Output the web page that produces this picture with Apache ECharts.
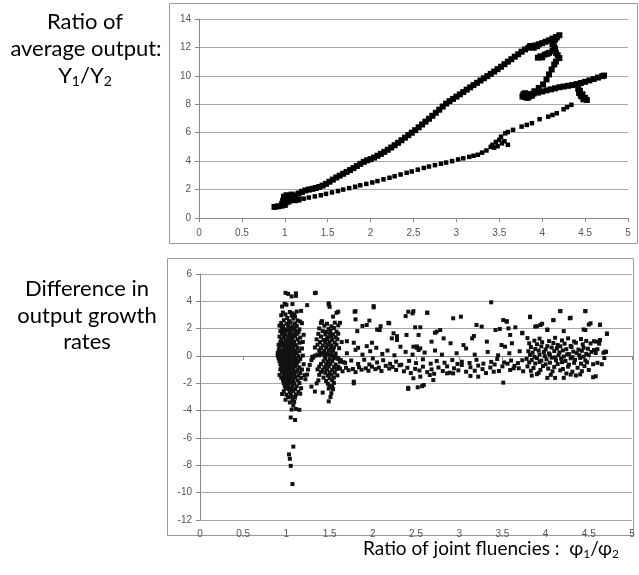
<!DOCTYPE html>
<html>
<head>
<meta charset="utf-8">
<title>Ratio of joint fluencies</title>
<script src="https://cdn.jsdelivr.net/npm/echarts@6/dist/echarts.min.js"></script>
<style>
  html, body { margin: 0; padding: 0; background: #fff; }
  #chart { width: 639px; height: 575px; }
</style>
</head>
<body>
<div id="chart"></div>
<script>
// ---- top panel: Y1/Y2 against phi1/phi2 ----
const startBlob = [
  [0.88,0.78],[0.92,0.82],[0.96,0.86],[1.0,0.92],[0.97,1.0],[1.01,1.08],[1.04,1.15],
  [0.98,1.2],[1.0,1.3],[1.03,1.4],[0.99,1.5],[1.02,1.6],[1.06,1.55],[1.1,1.5],
  [1.07,1.3],[1.12,1.25],[1.05,1.22],[1.16,1.3],[1.08,1.65]
];
const riseBranch = [
  [1.12,1.58],[1.16,1.72],[1.2,1.84],[1.24,1.94],[1.28,2.0],[1.32,2.05],[1.36,2.11],
  [1.4,2.18],[1.44,2.28],[1.48,2.4],[1.52,2.55],[1.56,2.7],[1.6,2.85],[1.64,2.98],
  [1.68,3.11],[1.72,3.24],[1.76,3.37],[1.8,3.51],[1.84,3.66],[1.88,3.81],[1.92,3.95],
  [1.96,4.06],[2.0,4.14],[2.04,4.25],[2.08,4.38],[2.12,4.51],[2.16,4.65],[2.2,4.8],
  [2.24,4.96],[2.28,5.12],[2.32,5.29],[2.36,5.47],[2.4,5.65],[2.44,5.83],[2.48,6.0],
  [2.52,6.18],[2.56,6.38],[2.6,6.58],[2.64,6.78],[2.68,6.98],[2.72,7.19],[2.76,7.4],
  [2.8,7.62],[2.84,7.84],[2.88,8.05],[2.92,8.22],[2.96,8.38],[3.0,8.54],[3.04,8.7],
  [3.08,8.86],[3.12,9.03],[3.16,9.19],[3.2,9.35],[3.24,9.51],[3.28,9.67],[3.32,9.83],
  [3.36,9.98],[3.4,10.14],[3.44,10.3],[3.48,10.47],[3.52,10.64],[3.56,10.82],[3.6,11.0],
  [3.64,11.17],[3.68,11.35],[3.72,11.52],[3.76,11.7],[3.8,11.86],[3.84,11.98],[3.88,12.06],
  [3.92,12.14],[3.96,12.22],[4.0,12.3],[4.04,12.4],[4.08,12.5],[4.12,12.62],[4.16,12.74],
  [4.2,12.86],[3.86,12.1],[3.9,11.98],[3.94,12.08]
];
const foldBranch = [
  [4.17,12.7],[4.15,12.55],[4.13,12.4],[4.12,12.22],[4.14,12.05],[4.15,11.9],[4.12,11.75],
  [4.08,11.62],[4.03,11.5],[3.98,11.38],[3.95,11.28],[4.0,11.3],[4.06,11.55],[4.16,11.62],
  [4.18,11.45],[4.2,11.25],[4.16,11.0],
  [4.14,10.8],[4.11,10.45],[4.08,10.1],[4.05,9.75],[4.01,9.4],[3.96,9.15],[3.91,8.92],[3.86,8.72],
  [3.77,8.55],[3.8,8.5],[3.78,8.7],[3.82,8.62],[3.85,8.55],[3.83,8.45],[3.88,8.6],[3.8,8.78],
  [3.9,8.75],[3.95,8.82],[4.0,8.9],[4.05,8.98],[4.1,9.05],[4.15,9.12],[4.2,9.2],[4.25,9.25],
  [4.3,9.3],[4.35,9.35],[4.4,9.42],[4.45,9.5],[4.5,9.58],[4.55,9.68],[4.6,9.78],[4.65,9.88],
  [4.7,9.98],[4.72,10.02],
  [4.42,9.1],[4.44,8.95],[4.43,8.8],[4.47,8.7],[4.46,8.55],[4.5,8.45],[4.48,8.35],[4.52,8.3],[4.45,8.62]
];
const returnBranch = [
  [4.34,7.96],[4.29,7.8],[4.25,7.65],[4.17,7.37],[4.12,7.25],[4.07,7.13],[3.97,6.95],[3.88,6.67],
  [3.82,6.55],[3.76,6.43],[3.66,6.2],[3.6,6.05],[3.57,5.96],[3.52,5.72],[3.5,5.5],[3.46,5.35],
  [3.42,5.15],[3.48,5.05],[3.53,5.25],[3.56,5.4],[3.44,4.95],[3.6,5.15],[3.4,5.0],
  [3.35,4.75],[3.3,4.6],[3.25,4.45],[3.2,4.38],[3.15,4.3],[3.08,4.2],[3.02,4.12],[2.95,4.0],
  [2.88,3.9],[2.82,3.82],[2.75,3.72],[2.68,3.62],[2.62,3.52],[2.55,3.4],[2.48,3.27],[2.42,3.18],
  [2.35,3.06],[2.28,2.94],[2.22,2.83],[2.15,2.72],[2.08,2.6],[2.02,2.5],[1.95,2.4],[1.88,2.3],
  [1.82,2.2],[1.75,2.1],[1.68,2.0],[1.62,1.9],[1.55,1.8],[1.48,1.7],[1.42,1.6],[1.35,1.52],
  [1.28,1.44],[1.22,1.36],[1.16,1.28],[1.1,1.22],[1.04,1.15]
];

// ---- bottom panel: difference in output growth rates ----
const clusterNearOne = [
  [0.99,4.62],[1.02,4.55],[1.11,4.58],[1.06,4.36],[1.11,4.4],
  [0.98,3.82],[1.0,3.75],[1.07,3.8],[1.24,3.72],[0.95,3.62],
  [0.96,3.18],[1.04,3.22],[1.07,3.12],[1.12,3.25],[1.17,3.3],
  [0.94,2.98],[0.99,3.04],[1.06,2.95],[1.09,3.02],[1.1,2.88],
  [1.01,2.78],[1.08,2.74],
  [0.97,2.62],[1.03,2.55],[1.13,2.6],[1.16,2.52],
  [0.94,2.42],[1.0,2.36],[1.05,2.45],[1.1,2.38],[1.18,2.4],
  [0.92,2.22],[0.96,2.18],[1.02,2.25],[1.07,2.16],[1.12,2.2],
  [0.95,2.02],[0.99,1.96],[1.03,2.05],[1.06,1.98],[1.09,2.04],[1.15,1.95],
  [0.93,1.82],[0.97,1.76],[1.01,1.84],[1.05,1.78],[1.1,1.85],[1.14,1.74],
  [0.95,1.62],[0.99,1.56],[1.04,1.64],[1.08,1.58],[1.12,1.62],[1.2,1.55],
  [0.92,1.42],[0.97,1.36],[1.02,1.44],[1.06,1.38],[1.1,1.45],[1.16,1.35],
  [0.94,1.22],[0.99,1.16],[1.03,1.25],[1.07,1.18],[1.13,1.22],
  [0.93,1.02],[0.96,0.96],[1.01,1.04],[1.05,0.98],[1.09,1.05],[1.15,0.97],[1.19,1.02],
  [0.91,0.82],[0.95,0.78],[0.99,0.84],[1.03,0.77],[1.07,0.83],[1.11,0.8],
  [0.92,0.62],[0.97,0.58],[1.0,0.64],[1.04,0.57],[1.08,0.63],[1.13,0.6],[1.18,0.55],
  [0.91,0.42],[0.94,0.38],[0.98,0.44],[1.02,0.37],[1.06,0.43],[1.1,0.4],[1.15,0.36],
  [0.9,0.22],[0.93,0.18],[0.96,0.24],[1.0,0.17],[1.04,0.23],[1.08,0.19],[1.12,0.22],
  [0.9,0.02],[0.92,-0.03],[0.95,0.04],[0.98,-0.02],[1.01,0.03],[1.05,-0.04],[1.09,0.02],[1.14,-0.02],[1.19,0.03],
  [0.91,-0.18],[0.94,-0.23],[0.97,-0.16],[1.0,-0.22],[1.03,-0.17],[1.07,-0.24],[1.11,-0.18],[1.16,-0.22],
  [0.92,-0.38],[0.95,-0.43],[0.99,-0.37],[1.02,-0.42],[1.06,-0.36],[1.1,-0.44],[1.14,-0.39],
  [0.93,-0.58],[0.97,-0.63],[1.01,-0.57],[1.04,-0.62],[1.08,-0.56],[1.12,-0.64],[1.2,-0.6],
  [0.94,-0.78],[0.98,-0.83],[1.02,-0.77],[1.06,-0.82],[1.1,-0.76],[1.15,-0.84],
  [0.93,-0.98],[0.96,-1.03],[1.0,-0.97],[1.04,-1.02],[1.08,-0.96],[1.13,-1.04],[1.18,-0.99],
  [0.95,-1.18],[0.99,-1.23],[1.03,-1.17],[1.07,-1.22],[1.11,-1.16],[1.16,-1.24],
  [0.92,-1.38],[0.97,-1.43],[1.01,-1.37],[1.05,-1.42],[1.09,-1.36],[1.14,-1.44],[1.21,-1.4],
  [0.94,-1.58],[0.98,-1.63],[1.02,-1.57],[1.06,-1.62],[1.1,-1.56],[1.17,-1.6],
  [0.96,-1.78],[1.0,-1.83],[1.04,-1.77],[1.08,-1.82],[1.13,-1.78],
  [0.97,-1.98],[1.01,-2.03],[1.05,-1.97],[1.09,-2.02],[1.15,-1.98],
  [0.98,-2.18],[1.02,-2.23],[1.07,-2.17],[1.12,-2.22],
  [0.99,-2.38],[1.03,-2.43],[1.06,-2.37],[1.1,-2.42],[1.17,-2.36],
  [0.97,-2.58],[1.04,-2.63],[1.08,-2.57],[1.14,-2.62],
  [0.95,-2.78],[1.0,-2.83],[1.05,-2.77],[1.11,-2.82],[1.16,-2.76],
  [1.02,-3.02],[1.06,-2.97],[1.1,-3.04],
  [0.99,-3.2],[1.07,-3.24],[1.04,-3.4],[1.09,-3.36],[1.08,-3.62],
  [1.06,-3.92],[1.11,-3.88],[1.15,-3.94],[1.05,-4.5],[1.1,-4.68],
  [1.08,-6.63],[1.03,-7.2],[1.04,-7.52],[1.05,-8.04],[1.07,-9.37]
];
const hookBand = [
  [1.22,-1.7],[1.24,-1.36],[1.25,-0.99],[1.27,-0.65],[1.29,-0.3],[1.31,-0.12],[1.33,0.02],
  [1.36,0.1],[1.39,0.16],[1.42,0.18],[1.45,0.14],[1.48,0.1],[1.51,0.05],[1.54,0.0],
  [1.57,-0.06],[1.6,-0.15],[1.63,-0.3],[1.66,-0.45],[1.3,-0.05],[1.38,0.05],[1.44,0.02]
];
const clusterNearOneHalf = [
  [1.33,4.6],[1.34,4.63],[1.49,3.85],[1.5,3.6],[1.6,3.24],[1.41,2.5],[1.54,2.88],
  [1.4,2.42],[1.47,2.36],[1.56,2.44],[1.44,2.22],[1.52,2.17],[1.6,2.24],
  [1.38,2.02],[1.49,1.97],[1.55,2.05],[1.42,1.82],[1.46,1.77],[1.51,1.84],[1.58,1.78],
  [1.37,1.62],[1.45,1.57],[1.5,1.64],[1.54,1.58],[1.6,1.63],
  [1.4,1.42],[1.48,1.37],[1.52,1.44],[1.57,1.38],
  [1.35,1.22],[1.43,1.17],[1.47,1.24],[1.53,1.18],[1.59,1.23],
  [1.39,1.02],[1.45,0.97],[1.5,1.04],[1.56,0.98],[1.64,1.02],
  [1.36,0.82],[1.42,0.77],[1.48,0.84],[1.52,0.78],[1.58,0.83],
  [1.33,0.62],[1.4,0.57],[1.46,0.64],[1.51,0.58],[1.55,0.63],[1.61,0.57],
  [1.38,0.42],[1.44,0.37],[1.49,0.44],[1.54,0.38],
  [1.42,0.22],[1.47,0.17],[1.52,0.24],[1.57,0.18],
  [1.45,-0.18],[1.5,-0.23],[1.55,-0.17],[1.6,-0.22],
  [1.43,-0.38],[1.48,-0.43],[1.53,-0.37],[1.62,-0.42],
  [1.4,-0.58],[1.46,-0.63],[1.51,-0.57],[1.57,-0.62],
  [1.38,-0.78],[1.44,-0.83],[1.49,-0.77],[1.55,-0.82],[1.6,-0.78],
  [1.36,-0.98],[1.42,-1.03],[1.47,-0.97],[1.53,-1.02],[1.58,-0.96],
  [1.4,-1.18],[1.45,-1.23],[1.5,-1.17],[1.56,-1.22],
  [1.38,-1.38],[1.48,-1.43],[1.52,-1.37],[1.59,-1.42],
  [1.43,-1.58],[1.5,-1.63],[1.55,-1.57],
  [1.37,-1.78],[1.46,-1.83],[1.53,-1.77],
  [1.35,-2.0],[1.48,-2.03],[1.55,-1.97],
  [1.29,-2.24],[1.5,-2.18],[1.53,-2.23],[1.49,-2.38],[1.54,-2.43],
  [1.33,-2.6],[1.42,-2.68],[1.52,-2.72],[1.51,-3.0],[1.49,-3.32]
];
const midBand = [
  [1.62,-0.92],[1.65,-1.12],[1.69,-0.86],[1.72,-1.04],[1.77,-0.95],[1.8,-1.18],[1.84,-0.83],
  [1.87,-1.0],[1.92,-0.9],[1.95,-1.08],[1.99,-0.78],[2.03,-0.96],[2.07,-0.85],[2.1,-1.1],
  [2.15,-0.72],[2.19,-0.92],[2.23,-0.8],[2.27,-1.02],[2.31,-0.68],[2.36,-1.12],[2.4,-0.86],
  [2.44,-1.25],[2.49,-0.94],[2.54,-1.06],[2.58,-0.78],[2.63,-1.18],[2.68,-0.98],[2.71,-1.3],
  [2.76,-0.84],[2.81,-1.1],[2.86,-0.76],[2.89,-1.22],[2.94,-0.9],[2.99,-1.05],[3.03,-0.66],
  [3.08,-1.15],[3.13,-0.82],[3.18,-1.08],[3.22,-0.7],[3.27,-0.96],[3.31,-1.25],[3.36,-0.84],
  [3.41,-0.62],[3.46,-1.1],[3.5,-0.76],[3.56,-0.56],[3.59,-1.02],[3.64,-0.72],[3.69,-0.9],[3.74,-1.12],
  [1.68,-0.5],[1.75,-0.33],[1.83,-0.58],[1.9,-0.27],[1.96,-0.62],[2.0,-0.18],[2.05,-0.47],
  [2.12,-0.31],[2.2,-0.57],[2.27,-0.41],[2.33,-0.64],[2.42,-0.36],[2.5,-0.52],[2.58,-0.24],
  [2.67,-0.56],[2.74,-0.37],[2.83,-0.49],[2.92,-0.29],[2.98,-0.58],[3.03,-0.42],[3.12,-0.51],
  [3.2,-0.28],[3.28,-0.56],[3.37,-0.43],[3.44,-0.22],[3.52,-0.47],[3.6,-0.33],[3.68,-0.52],[3.73,-0.31],
  [1.7,0.2],[1.8,0.45],[1.88,0.1],[1.97,0.35],[2.04,0.6],[2.11,0.15],[2.17,0.4],[2.25,0.05],
  [2.38,0.3],[2.46,0.1],[2.6,0.25],[2.72,0.4],[2.8,0.1],[2.97,0.2],[3.08,0.55],[3.18,0.1],
  [3.33,0.3],[3.45,0.05],[3.58,0.2],[3.7,0.35]
];
const midScatter = [
  [1.79,3.24],[2.01,3.56],[1.8,2.68],[1.88,2.2],[1.93,2.27],[1.96,2.59],[2.07,1.9],[2.08,1.9],
  [2.19,2.39],[2.24,1.66],[2.28,1.17],[2.22,1.29],[2.41,3.24],[2.46,3.12],[2.63,3.17],[2.49,2.1],
  [2.55,2.1],[2.39,1.54],[2.53,1.54],[2.32,0.68],[2.47,0.68],[2.51,0.7],[2.53,0.44],[2.55,0.56],
  [2.68,1.05],[2.74,1.78],[2.78,1.9],[2.82,1.29],[2.93,2.76],[3.02,2.88],[2.9,0.93],[3.05,0.8],
  [3.15,1.29],[3.17,1.46],[3.2,2.27],[3.26,2.15],[3.37,3.93],[3.32,1.05],[3.42,1.9],[3.47,1.98],
  [3.51,2.63],[3.55,2.51],[3.57,2.02],[3.59,1.54],[3.61,0.93],[3.49,0.8],[3.53,0.68],[3.65,2.1],
  [3.73,1.66],[3.82,2.88],[3.88,2.15],[3.94,2.27],[4.02,1.9],[4.09,2.63],[4.17,3.29],[4.28,2.76],
  [4.46,3.29],[4.52,2.39],[4.46,1.9],[4.63,2.27],[4.71,1.61],[4.63,1.17],[4.59,1.05],[4.56,0.44],[4.69,0.32],
  [1.7,1.08],[1.78,0.97],[1.83,0.6],[1.93,0.72],[1.99,0.97],[2.05,1.94],[2.09,2.18],[2.18,2.43],
  [2.28,1.45],[2.38,2.92],[2.47,3.28],[2.51,0.6],[2.63,3.16],[2.72,1.7],
  [1.49,3.77],[1.41,2.55],[1.58,3.16],[1.62,2.43],[1.82,1.82],[1.8,3.28],[2.01,3.65],
  [1.78,-2.0],[1.78,-1.88],[2.41,-2.41],[2.52,-2.29],[2.59,-2.12],[2.47,-1.63],[2.55,-1.51],
  [2.7,-1.76],[2.66,-1.39],[2.86,-1.27],[2.93,-1.27],[3.13,-1.46],[3.22,-1.51],[3.51,-1.95],
  [3.4,-1.15],[3.63,-0.9],[2.57,-2.21],[2.41,-2.33]
];
const clusterNearFour = [
  [4.17,3.28],[4.46,3.28],[3.82,2.84],[4.09,2.62],[4.29,2.8],[3.55,2.55],[3.96,2.36],[4.5,2.3],
  [4.63,2.3],[4.71,1.65],[4.21,1.82],[4.02,1.94],[3.9,2.18],[3.73,1.7],[4.44,1.94],[4.56,1.08],
  [4.63,1.16],[4.67,0.23],[4.6,-0.5],[4.29,-1.36],[4.11,-1.6],[4.21,-1.6],[4.35,-1.43],[4.58,-1.48],
  [3.84,-1.43],[3.92,-1.23],[4.02,-1.6],[4.42,-1.11],
  [4.65,-0.6],[4.68,-0.15],[4.62,0.9],[4.55,-1.55],[4.7,0.3],[4.6,0.5],
  [3.79,1.31],[3.87,1.12],[3.93,1.27],[4.04,1.09],[4.11,1.33],[4.19,1.14],[4.26,1.29],[4.33,1.06],[4.41,1.24],[4.47,1.1],
  [3.81,0.93],[3.9,0.86],[3.96,1.01],[4.02,0.72],[4.09,0.95],[4.14,0.81],[4.22,0.9],[4.29,0.74],[4.35,0.97],[4.43,0.85],[4.52,0.92],
  [3.83,0.66],[3.88,0.51],[3.95,0.7],[4.0,0.48],[4.07,0.62],[4.13,0.55],[4.17,0.71],[4.24,0.5],[4.3,0.66],[4.38,0.47],[4.44,0.6],[4.49,0.53],
  [3.8,0.35],[3.85,0.24],[3.92,0.4],[3.98,0.29],[4.04,0.19],[4.1,0.36],[4.16,0.26],[4.2,0.41],[4.27,0.14],[4.32,0.32],[4.36,0.21],[4.42,0.38],[4.47,0.16],[4.53,0.3],[4.58,0.22],
  [3.82,0.08],[3.87,-0.06],[3.93,0.11],[3.99,-0.01],[4.05,0.09],[4.11,-0.1],[4.15,0.05],[4.21,-0.04],[4.25,0.12],[4.31,-0.08],[4.39,0.06],[4.44,-0.05],[4.5,0.07],
  [3.78,-0.21],[3.84,-0.3],[3.9,-0.15],[3.95,-0.34],[4.01,-0.24],[4.07,-0.12],[4.12,-0.31],[4.18,-0.2],[4.23,-0.36],[4.29,-0.17],[4.34,-0.28],[4.4,-0.14],[4.46,-0.33],
  [3.81,-0.47],[3.88,-0.55],[3.93,-0.44],[4.0,-0.61],[4.05,-0.49],[4.14,-0.58],[4.19,-0.45],[4.27,-0.63],[4.33,-0.5],[4.41,-0.56],[4.48,-0.46],[4.55,-0.6],
  [3.79,-0.76],[3.86,-0.88],[3.97,-0.73],[4.03,-0.92],[4.1,-0.8],[4.2,-0.95],[4.26,-0.78],[4.37,-0.86],[4.45,-0.74],
  [3.83,-1.08],[3.94,-1.02],[4.08,-1.12],[4.17,-1.05],[4.31,-1.15],[4.5,-1.02],
  [3.9,-1.33],[4.06,-1.38],[4.24,-1.28],[4.4,-1.35]
];

const axisGray = '#898989';
const gridGray = '#a8a8a8';
const labelGray = '#555';
const labelFont = 'Liberation Sans';
const titleFont = 'Lato';

function xAxisFor(gridIndex, margin) {
  return {
    gridIndex: gridIndex, type: 'value', min: 0, max: 5, interval: 0.5,
    axisLine: { show: true, lineStyle: { color: axisGray } },
    axisTick: { show: true, length: 4, lineStyle: { color: axisGray } },
    axisLabel: { color: labelGray, fontSize: 10, fontFamily: labelFont, margin: margin },
    splitLine: { show: false }
  };
}
function yAxisFor(gridIndex, min, max) {
  return {
    gridIndex: gridIndex, type: 'value', min: min, max: max, interval: 2,
    axisLine: { show: true, lineStyle: { color: axisGray } },
    axisTick: { show: true, length: 4, lineStyle: { color: axisGray } },
    axisLabel: { color: labelGray, fontSize: 10, fontFamily: labelFont, margin: 8 },
    splitLine: { show: true, lineStyle: { color: gridGray } }
  };
}

function caption(x, y, text) {
  return { type: 'text', x: x, y: y, style: { text: text, fill: '#000', font: '22px ' + titleFont,
    textAlign: 'center', textVerticalAlign: 'middle', align: 'center', verticalAlign: 'middle' } };
}

const chart = echarts.init(document.getElementById('chart'), null, { renderer: 'canvas' });

const option = {
  animation: false,
  backgroundColor: '#fff',
  grid: [
    { left: 199, right: 11, top: 19, bottom: 357 },
    { left: 200, right: 7, top: 274, bottom: 55 }
  ],
  xAxis: [xAxisFor(0, 10), xAxisFor(1, 9)],
  yAxis: [yAxisFor(0, 0, 14), yAxisFor(1, -12, 6)],
  series: [
    {
      type: 'scatter', xAxisIndex: 0, yAxisIndex: 0, symbol: 'rect', symbolSize: 6,
      itemStyle: { color: '#000', opacity: 1 }, silent: true,
      data: startBlob.concat(riseBranch, foldBranch)
    },
    {
      type: 'scatter', xAxisIndex: 0, yAxisIndex: 0, symbol: 'rect', symbolSize: 4.5,
      itemStyle: { color: '#000', opacity: 1 }, silent: true,
      data: returnBranch
    },
    {
      type: 'scatter', xAxisIndex: 1, yAxisIndex: 1, symbol: 'rect', symbolSize: 4,
      itemStyle: { color: '#111', opacity: 1 }, silent: true,
      data: clusterNearOne.concat(hookBand, clusterNearOneHalf, midBand, midScatter, clusterNearFour)
    }
  ],
  graphic: [
    // panel frames
    { type: 'rect', z: -10, shape: { x: 169.5, y: 3.5, width: 468, height: 240 },
      style: { fill: 'none', stroke: '#9a9a9a', lineWidth: 1 } },
    { type: 'rect', z: -10, shape: { x: 167.5, y: 258.5, width: 466, height: 277 },
      style: { fill: 'none', stroke: '#9a9a9a', lineWidth: 1 } },
    // left captions
    caption(85, 22, 'Ratio of'),
    caption(86, 49, 'average output:'),
    { type: 'text', x: 85, y: 76, style: {
      text: '{m|Y}{s|1}{m|/Y}{s|2}', fill: '#000',
      textAlign: 'center', textVerticalAlign: 'middle', align: 'center', verticalAlign: 'middle',
      rich: {
        m: { fontSize: 22, fontFamily: titleFont, color: '#000', lineHeight: 24 },
        s: { fontSize: 14, fontFamily: titleFont, color: '#000', lineHeight: 10, verticalAlign: 'bottom' }
      } } },
    caption(87, 289, 'Difference in'),
    caption(87, 316, 'output growth'),
    caption(87, 342, 'rates'),
    // bottom caption
    { type: 'text', x: 491, y: 549, style: {
      text: '{m|Ratio of joint fluencies :  φ}{s|1}{m|/φ}{s|2}', fill: '#000',
      textAlign: 'center', textVerticalAlign: 'middle', align: 'center', verticalAlign: 'middle',
      rich: {
        m: { fontSize: 19, fontFamily: titleFont, color: '#000', lineHeight: 22 },
        s: { fontSize: 12, fontFamily: titleFont, color: '#000', lineHeight: 9, verticalAlign: 'bottom' }
      } } }
  ]
};

chart.setOption(option);
</script>
</body>
</html>
